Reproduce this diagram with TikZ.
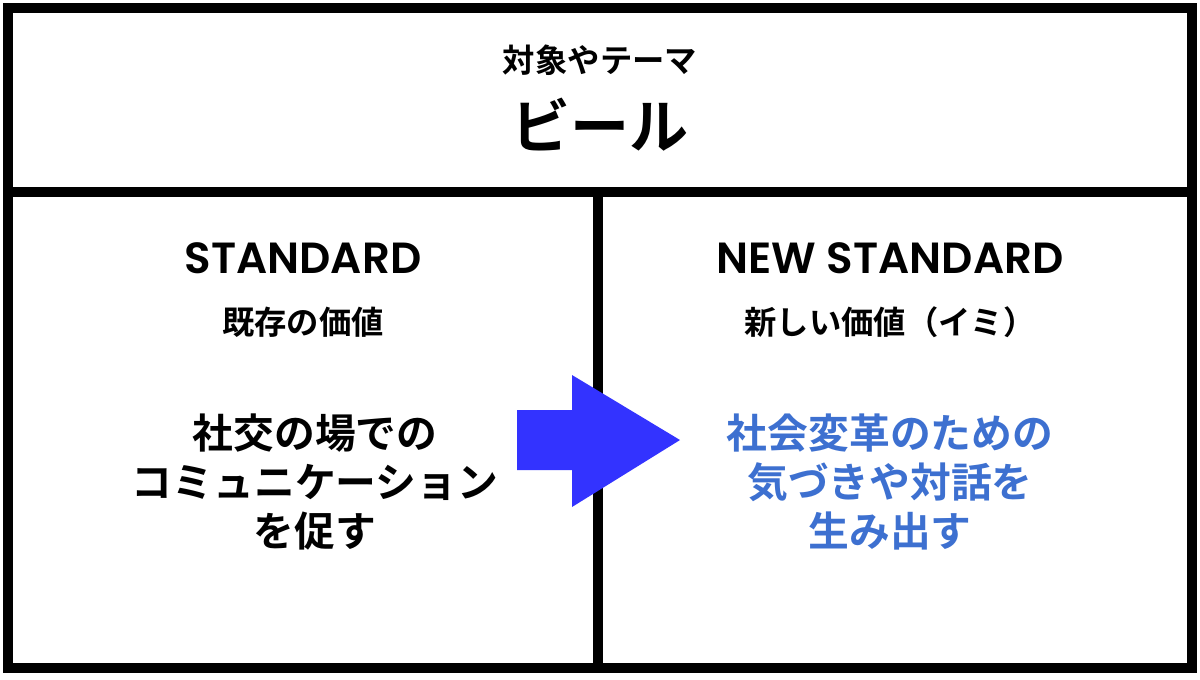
\documentclass[tikz,border=0pt]{standalone}
\usepackage{fontspec}
\setmainfont{Noto Sans CJK JP}
\newfontfamily\jpbold{Noto Sans CJK JP}[BoldFont=* Bold]
\newfontfamily\latinhead{Poppins SemiBold}
\definecolor{newblue}{RGB}{61,112,208}
\definecolor{arrowblue}{RGB}{51,51,255}
\tikzset{
  frame/.style={line width=7pt},
  heading/.style={font=\latinhead\fontsize{31}{34}\selectfont},
  sub/.style={font=\jpbold\bfseries\fontsize{23}{26}\selectfont},
  body/.style={font=\jpbold\bfseries\fontsize{29}{35}\selectfont,align=center}
}
\begin{document}
\begin{tikzpicture}[x=0.025cm,y=-0.025cm]
    \useasboundingbox (0,0) rectangle (1200,679);
    % Frame and dividers
    \draw[frame] (8,8) rectangle (1192,668);
    \draw[frame] (8,192) -- (1192,192);
    \draw[frame] (598,192) -- (598,668);

    % Theme
    \node[sub] (themelabel) at (600,60) {対象やテーマ};
    \node[font=\jpbold\bfseries\fontsize{42}{46}\selectfont] (theme) at (600,125) {ビール};

    % Standard
    \node[heading] (std) at (303,258) {STANDARD};
    \node[sub] (stdsub) at (303,322) {既存の価値};
    \node[body] (stdbody) at (315,482) {社交の場での\\コミュニケーション\\を促す};

    % New standard
    \node[heading] (newstd) at (890,258) {NEW STANDARD};
    \node[sub] (newsub) at (890,322) {新しい価値（イミ）};
    \node[body,text=newblue] (newbody) at (890,482) {社会変革のための\\気づきや対話を\\生み出す};

    % Arrow
    \fill[arrowblue] (517,410) -- (572,410) -- (572,375) -- (680,440)
        -- (572,507) -- (572,470) -- (517,470) -- cycle;
\end{tikzpicture}
\end{document}
